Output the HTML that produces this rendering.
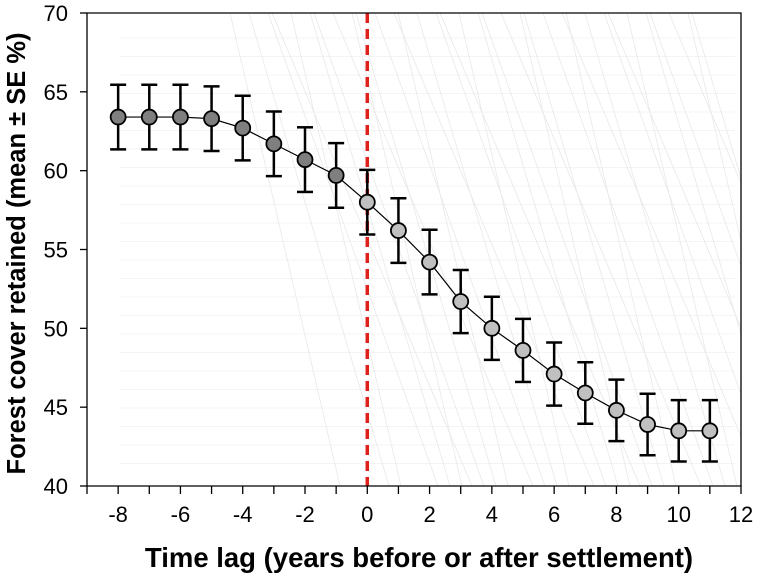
<!DOCTYPE html>
<html><head><meta charset="utf-8"><style>
html,body{margin:0;padding:0;background:#fff;width:758px;height:577px;overflow:hidden}
svg{display:block;font-family:"Liberation Sans",Arial,sans-serif}
</style></head><body>
<svg id="chart" width="758" height="577"></svg>
<script>
const lags=[-8,-7,-6,-5,-4,-3,-2,-1,0,1,2,3,4,5,6,7,8,9,10,11];
const means=[63.4,63.4,63.4,63.3,62.7,61.7,60.7,59.7,58.0,56.2,54.2,51.7,50.0,48.6,47.1,45.9,44.8,43.9,43.5,43.5];
const se=[2.05,2.05,2.05,2.05,2.05,2.05,2.05,2.05,2.05,2.05,2.05,2.0,2.0,2.0,2.0,1.95,1.95,1.95,1.95,1.95];
const xTicks=[-8,-6,-4,-2,0,2,4,6,8,10,12];
const xMinor=[-9,-8,-7,-6,-5,-4,-3,-2,-1,0,1,2,3,4,5,6,7,8,9,10,11,12];
const yTicks=[40,45,50,55,60,65,70];
const L=87,R=741,T=13,B=486;
const X=v=>L+(v+9)/21*(R-L);
const Y=v=>B-(v-40)/30*(B-T);
const svg=document.getElementById('chart');
const NS='http://www.w3.org/2000/svg';
function mk(tag,attrs,parent){const e=document.createElementNS(NS,tag);for(const k in attrs)e.setAttribute(k,attrs[k]);(parent||svg).appendChild(e);return e;}
// faint background lines
const cp=mk('clipPath',{id:'pc'});mk('rect',{x:L,y:T,width:R-L,height:B-T},cp);
const bg=mk('g',{stroke:'#e8e8e8','stroke-width':'0.8',fill:'none','clip-path':'url(#pc)'});


for(let i=0;i<24;i++){const yy=T+25+i*18.5;mk('line',{x1:120,y1:yy,x2:735,y2:yy,stroke:'#f0f0f0'},bg);}
for(let i=0;i<34;i++){const x0=230+i*14+(i%3)*5;mk('line',{x1:x0,y1:T,x2:x0+110+(i%4)*30,y2:B},bg);}
// dashed red line
const rl=mk('line',{x1:X(0),y1:T,x2:X(0),y2:B,stroke:'#e0201a','stroke-width':'3.5','stroke-dasharray':'10,6'});


// axes frame
const fr=mk('path',{d:`M${L},${B}V${T}H${R}V${B}H${L}`,fill:'none',stroke:'#000','stroke-width':'1.3'});


yTicks.forEach(v=>{mk('line',{x1:L-7,y1:Y(v),x2:L,y2:Y(v),stroke:'#000','stroke-width':'1.3'});
const t=mk('text',{x:L-19,y:Y(v)+8,'text-anchor':'end','font-size':'22'});t.textContent=v;

});
xMinor.forEach(v=>mk('line',{x1:X(v),y1:B,x2:X(v),y2:B+8,stroke:'#000','stroke-width':'1.3'}));
xTicks.forEach(v=>{const t=mk('text',{x:X(v),y:B+36,'text-anchor':'middle','font-size':'22'});t.textContent=v;

});
// line
const pl=mk('polyline',{points:lags.map((v,i)=>X(v)+','+Y(means[i])).join(' '),fill:'none',stroke:'#000','stroke-width':'1.2'});


lags.forEach((v,i)=>{const x=X(v),y1=Y(means[i]+se[i]),y2=Y(means[i]-se[i]);
const g=mk('g',{stroke:'#000','stroke-width':'2.5'});


mk('line',{x1:x,y1:y1,x2:x,y2:y2},g);mk('line',{x1:x-8,y1:y1,x2:x+8,y2:y1},g);mk('line',{x1:x-8,y1:y2,x2:x+8,y2:y2},g);});
lags.forEach((v,i)=>{const c=mk('circle',{cx:X(v),cy:Y(means[i]),r:7.5,fill:v<0?'#7f7f7f':'#c0c0c0',stroke:'#000','stroke-width':'1.8'});

});
const xt=mk('text',{x:419,y:567,'text-anchor':'middle','font-size':'27.5','font-weight':'bold'});xt.textContent='Time lag (years before or after settlement)';


const yt=mk('text',{x:0,y:0,'text-anchor':'middle','font-size':'25.5','font-weight':'bold',transform:`translate(25,${(T+B)/2+4}) rotate(-90)`});yt.textContent='Forest cover retained (mean ± SE %)';


</script>
</body></html>
